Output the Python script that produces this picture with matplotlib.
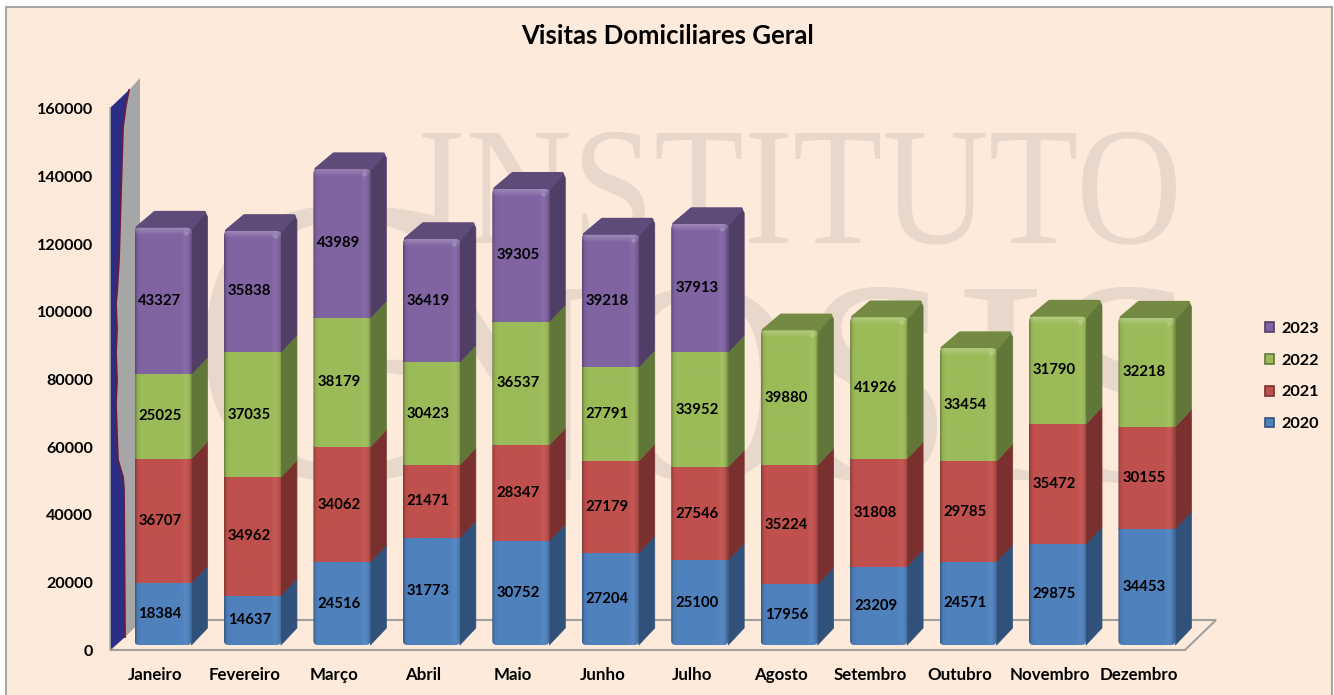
import numpy as np
import matplotlib
matplotlib.use('Agg')
import matplotlib.pyplot as plt
import matplotlib.patheffects as pe
from matplotlib.patches import FancyBboxPatch, Patch, Polygon, Rectangle
from matplotlib.transforms import Affine2D

months = ['Janeiro', 'Fevereiro', 'Março', 'Abril', 'Maio', 'Junho', 'Julho',
          'Agosto', 'Setembro', 'Outubro', 'Novembro', 'Dezembro']
v2020 = [18384, 14637, 24516, 31773, 30752, 27204, 25100, 17956, 23209, 24571, 29875, 34453]
v2021 = [36707, 34962, 34062, 21471, 28347, 27179, 27546, 35224, 31808, 29785, 35472, 30155]
v2022 = [25025, 37035, 38179, 30423, 36537, 27791, 33952, 39880, 41926, 33454, 31790, 32218]
v2023 = [43327, 35838, 43989, 36419, 39305, 39218, 37913, 0, 0, 0, 0, 0]
years = ['2020', '2021', '2022', '2023']
y_ticks = [0, 20000, 40000, 60000, 80000, 100000, 120000, 140000, 160000]

front_cols = ['#4F81BD', '#C0504D', '#9BBB59', '#8064A2']
side_cols = ['#30527A', '#7A302E', '#61773A', '#513E67']
top_cols = ['#3A5F8C', '#8C3A38', '#748A42', '#5F4B7A']

W, H = 1334, 695
PX_X = 89.45               # px per category
PX_Y = 541 / 160000        # px per visit
BAR_W = 57 / PX_X
DEPTH_X = 16 / PX_X
DEPTH_Y = 17 / PX_Y
BASE = 5 / PX_Y            # bars stand a little inside the floor
BAR_SHIFT = 8 / PX_X
LABEL_SHIFT = 5 / PX_X


class SquashX(pe.AbstractPathEffect):
    # watermark letters are narrower than the installed serif
    def __init__(self, sx, x0):
        self.sx, self.x0 = sx, x0

    def draw_path(self, renderer, gc, tpath, affine, rgbFace=None):
        squash = Affine2D().translate(-self.x0, 0).scale(self.sx, 1).translate(self.x0, 0)
        renderer.draw_path(gc, tpath, affine + squash, rgbFace)


def shade(col, f):
    c = np.array(matplotlib.colors.to_rgb(col))
    if f <= 1:
        return c * f
    return c + (1 - c) * (f - 1)


fig = plt.figure(figsize=(W / 100, H / 100), dpi=100, facecolor='white')
plt.rcParams['font.family'] = ['Lato', 'DejaVu Sans']

# panel
fig.patches.append(Rectangle((5.5 / W, -0.02), 1326.5 / W, (H - 6.5) / H + 0.02, transform=fig.transFigure,
                             facecolor='#FDEADA', edgecolor='#A3A8A6', linewidth=1.5, zorder=-3))

# watermark
wm = dict(family='Liberation Serif', color='#E8D8CB', zorder=-2, va='baseline', ha='left')
fig.text(417 / W, 1 - 243 / H, 'INSTITUTO', fontsize=121,
         path_effects=[SquashX(0.875, 417)], **wm)
fig.text(188 / W, 1 - 478 / H, 'G', fontsize=296, **wm)
fig.text(400 / W, 1 - 480 / H, 'NOSIS', fontsize=210,
         path_effects=[SquashX(0.95, 400)], **wm)

# plot area, 0 sits on the front edge of the floor
left, right, bottom, top = 105, 1225, 655, 70
ax = fig.add_axes([left / W, 1 - bottom / H, (right - left) / W, (bottom - top) / H])
ax.patch.set_visible(False)
for s in ax.spines.values():
    s.set_visible(False)
x0_px = 155
xlim = ((left - x0_px) / PX_X, (right - x0_px) / PX_X)
ylim = ((650 - bottom) / PX_Y, (650 - top) / PX_Y)

x_front, x_back = (110 - x0_px) / PX_X, (1185 - x0_px) / PX_X
ddx_floor, ddy_floor = 31 / PX_X, 30 / PX_Y
ax.add_patch(Polygon([(x_front, 0), (x_back, 0), (x_back + ddx_floor, ddy_floor), (x_front + ddx_floor, ddy_floor)],
                     closed=True, facecolor='none', edgecolor='#A0A0A0', linewidth=1.5, zorder=1))

# side wall with the torn-looking edge
edge_x = np.array([129, 126, 123, 122, 121, 119, 117, 116, 117, 116, 117, 116, 117, 118, 123, 124, 125])
edge_y = np.array([90, 105, 127, 160, 193, 260, 293, 303, 330, 353, 380, 403, 435, 460, 477, 490, 637])
wall_x = (edge_x - x0_px) / PX_X
wall_y = (650 - edge_y) / PX_Y
px2x = lambda p: (p - x0_px) / PX_X
py2y = lambda p: (650 - p) / PX_Y
gray = list(zip(wall_x, wall_y)) + [(px2x(140), py2y(621)), (px2x(140), py2y(78))]
blue = list(zip(wall_x, wall_y)) + [(px2x(110), py2y(650)), (px2x(110), py2y(108))]
ax.add_patch(Polygon(gray, closed=True, facecolor='#A6A6A6', edgecolor='none', zorder=1.2))
ax.add_patch(Polygon(blue, closed=True, facecolor='#2B2D87', edgecolor='none', zorder=1.3))
ax.plot(wall_x, wall_y, color='#6E1A3A', linewidth=1.3, zorder=1.4)
ax.plot([px2x(110), px2x(110)], [py2y(650), py2y(108)], color='#B0B0B0', linewidth=1.2, zorder=1.5)

# front face shading, left to right
grad_pos = [0, 0.04, 0.1, 0.82, 0.9, 0.96, 1]
grad_val = [0.72, 0.95, 1.0, 1.0, 1.06, 0.98, 0.78]
frac = np.linspace(0, 1, 57)
shades = np.interp(frac, grad_pos, grad_val)
inset_x, inset_y = 2 / PX_X, 2 / PX_Y

series = [v2020, v2021, v2022, v2023]
for i in range(len(months)):
    xl = i + BAR_SHIFT - BAR_W / 2
    xr = xl + BAR_W
    tops = BASE + np.cumsum([s[i] for s in series])
    bots = np.concatenate([[BASE], tops[:-1]])
    last = max(k for k in range(4) if series[k][i] > 0)

    # side faces
    for k in range(last + 1):
        yb, yt = bots[k], tops[k]
        if k == last:
            pts = [(xr, yb), (xr + DEPTH_X, yb + DEPTH_Y), (xr + DEPTH_X, yt + DEPTH_Y - 3 * inset_y),
                   (xr + DEPTH_X - inset_x, yt + DEPTH_Y - inset_y), (xr, yt)]
        else:
            pts = [(xr, yb), (xr + DEPTH_X, yb + DEPTH_Y), (xr + DEPTH_X, yt + DEPTH_Y), (xr, yt)]
        ax.add_patch(Polygon(pts, closed=True, facecolor=side_cols[k], edgecolor=side_cols[k], linewidth=0.5,
                             joinstyle='round', zorder=2))

    # top face
    ytop = tops[last]
    ax.add_patch(Polygon([(xl + 0.03, ytop), (xr, ytop), (xr + DEPTH_X - 1.5 * inset_x, ytop + DEPTH_Y - inset_y),
                          (xl + DEPTH_X + 0.05, ytop + DEPTH_Y - inset_y)], closed=True,
                         facecolor=top_cols[last], edgecolor=top_cols[last], linewidth=2.5,
                         joinstyle='round', zorder=2.5))

    # front faces, clipped to one rounded stack
    clip = FancyBboxPatch((xl, BASE), BAR_W, ytop - BASE, boxstyle='round,pad=0,rounding_size=0.05',
                          mutation_aspect=(1 / PX_Y) / (1 / PX_X), facecolor='none', edgecolor='none',
                          transform=ax.transData)
    ax.add_patch(clip)
    for k in range(last + 1):
        rgb = np.array([shade(front_cols[k], f) for f in shades])[None, :, :]
        im = ax.imshow(rgb, extent=(xl, xr, bots[k], tops[k]), aspect='auto', interpolation='bilinear', zorder=3)
        im.set_clip_path(clip)

    # lit rim at the top of the stack
    rim = np.ones((8, 2, 4))
    rim[:, :, 3] = np.linspace(0.22, 0, 8)[:, None]
    im = ax.imshow(rim, extent=(xl, xr, ytop - 8 / PX_Y, ytop), aspect='auto', origin='upper',
                   interpolation='bilinear', zorder=3.2)
    im.set_clip_path(clip)
    ax.scatter([xr - 6 / PX_X], [ytop - 5 / PX_Y], s=10, color=shade(front_cols[last], 1.3),
               linewidths=0, alpha=0.7, zorder=3.3)

    for k in range(last + 1):
        ax.text(i + LABEL_SHIFT, (bots[k] + tops[k]) / 2, str(series[k][i]), ha='center', va='center',
                fontsize=10.7, fontweight='bold', color='black', zorder=4)

ax.set_xlim(xlim)
ax.set_ylim(ylim)
ax.set_xticks(range(len(months)), months)
ax.set_yticks(y_ticks, [str(v) for v in y_ticks])
ax.tick_params(axis='x', length=0, labelsize=12.2, labelcolor='black', pad=18)
ax.tick_params(axis='y', length=0, labelsize=11.6, labelcolor='black', pad=8.5)
for t in ax.get_xticklabels() + ax.get_yticklabels():
    t.set_fontweight('bold')
for t in ax.get_xticklabels():
    t.set_verticalalignment('baseline')

fig.text(668 / W, 1 - 36 / H, 'Visitas Domiciliares Geral', ha='center', va='center',
         fontsize=18.5, fontweight='bold', color='black')

handles = [Patch(facecolor=front_cols[k], edgecolor=side_cols[k], linewidth=1.2, label=years[k]) for k in (3, 2, 1, 0)]
ax.legend(handles=handles, loc='center left', bbox_to_anchor=(1265 / W, 1 - 376.5 / H), bbox_transform=fig.transFigure,
          frameon=False, handlelength=0.55, handleheight=0.55, handletextpad=0.45, labelspacing=1.1,
          prop={'size': 11.7, 'weight': 'bold'}, borderpad=0, borderaxespad=0)

fig.savefig('out.png', dpi=100)
